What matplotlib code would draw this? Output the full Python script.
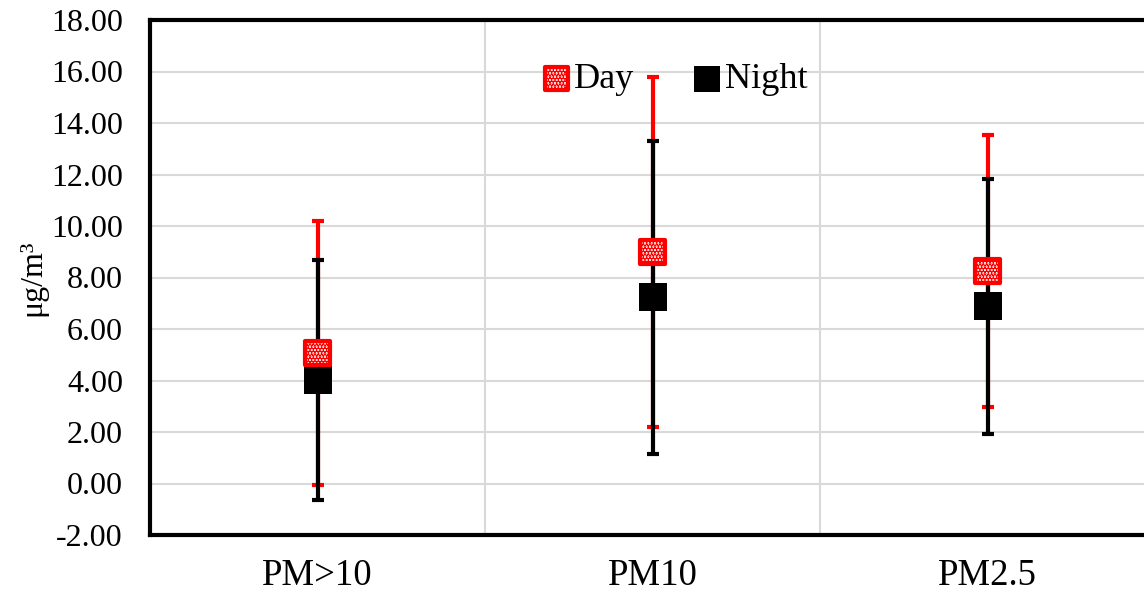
import matplotlib
matplotlib.use("Agg")
import matplotlib.pyplot as plt
import numpy as np

categories = ["PM>10", "PM10", "PM2.5"]
day_mean = [5.07, 8.99, 8.25]
day_sd = [5.12, 6.80, 5.27]
night_mean = [4.02, 7.24, 6.89]
night_sd = [4.66, 6.08, 4.95]
yticks = [-2, 0, 2, 4, 6, 8, 10, 12, 14, 16, 18]

plt.rcParams['font.family'] = ['Liberation Serif', 'DejaVu Serif']
plt.rcParams['hatch.linewidth'] = 3.0

fig = plt.figure(figsize=(11.44, 5.93), dpi=100)
ax = fig.add_axes([150/1144, 1-535/593, (1155-150)/1144, (535-20)/593])

x = np.arange(len(categories))

ax.errorbar(x, day_mean, yerr=day_sd, fmt='none', ecolor='#ff0000', elinewidth=3,
            capsize=4.3, capthick=3, zorder=3)
ax.errorbar(x, night_mean, yerr=night_sd, fmt='none', ecolor='black', elinewidth=3,
            capsize=4.3, capthick=3, zorder=4)
ax.scatter(x, night_mean, marker='s', s=400, color='black', linewidths=0, zorder=5, label='Night')
ax.scatter(x, day_mean, marker='s', s=300, facecolor='white', edgecolor='#ff0000',
           linewidths=3, hatch='.....', zorder=6, label='Day')

ax.set_xlim(-0.5, 2.5)
ax.set_ylim(-2, 18)
ax.set_yticks(yticks)
ax.set_yticklabels([f"{v:.2f}" for v in yticks], fontsize=23)
ax.set_xticks(x)
ax.set_xticklabels(categories, fontsize=26.5)
ax.set_xticks([0.5, 1.5], minor=True)
ax.tick_params(axis='both', which='both', length=0)
ax.tick_params(axis='x', pad=17)
ax.tick_params(axis='y', pad=19.5)
ax.grid(True, axis='y', which='major', color='#d9d9d9', linewidth=1.5)
ax.grid(True, axis='x', which='minor', color='#d9d9d9', linewidth=1.5)
ax.set_axisbelow(True)
for s in ax.spines.values():
    s.set_linewidth(3)
    s.set_color('black')

ax.set_ylabel("μg/m³", fontsize=23, labelpad=3)

handles, labels = ax.get_legend_handles_labels()
order = [labels.index('Day'), labels.index('Night')]
ax.legend([handles[i] for i in order], [labels[i] for i in order], loc='center',
          bbox_to_anchor=(0.521, 0.884), ncol=2, frameon=False, fontsize=26,
          handletextpad=0.05, columnspacing=1.55, handlelength=0.9, markerscale=0.95,
          borderpad=0)

fig.savefig("out.png", dpi=100)
